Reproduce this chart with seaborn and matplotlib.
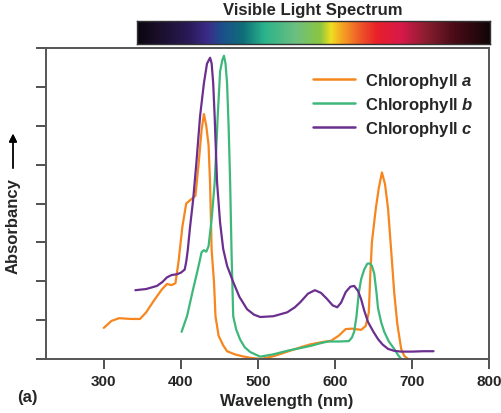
import numpy as np
import pandas as pd
import matplotlib
matplotlib.use('Agg')
import matplotlib.pyplot as plt
from matplotlib.colors import LinearSegmentedColormap
import seaborn as sns

# dados (nm, absorbancia em unidades de tick)
wl_a = [300, 310, 320, 335, 347, 355, 365, 375, 382, 388, 393, 397, 402, 407, 413, 419,
        423, 427, 430, 433, 436, 438, 440, 443, 445, 449, 455, 460, 470, 480, 490, 504,
        520, 540, 555, 569, 582, 595, 605, 614, 622, 634, 640, 644, 646, 648, 653, 657,
        661, 665, 669, 673, 677, 681, 686, 690, 695]
abs_a = [0.8, 0.98, 1.05, 1.03, 1.03, 1.2, 1.5, 1.78, 1.93, 1.9, 1.95, 2.5, 3.4, 4.0, 4.1, 4.2,
         5.0, 5.9, 6.3, 6.0, 5.5, 4.5, 2.8, 2.0, 1.1, 0.6, 0.35, 0.2, 0.12, 0.07, 0.03, 0.0,
         0.07, 0.2, 0.3, 0.38, 0.43, 0.47, 0.6, 0.77, 0.78, 0.75, 0.85, 1.2, 2.2, 3.0, 3.86, 4.4,
         4.8, 4.5, 3.86, 2.8, 1.7, 0.9, 0.26, 0.08, 0.0]

wl_b = [401, 408, 416, 422, 427, 430, 433, 436, 440, 444, 448, 451, 454, 456, 458, 460,
        462, 464, 466, 468, 472, 477, 483, 490, 503, 520, 540, 555, 569, 580, 591, 605,
        618, 622, 625, 628, 631, 634, 638, 642, 645, 648, 651, 654, 656, 660, 664, 670,
        677, 682, 686]
abs_b = [0.7, 1.1, 1.8, 2.3, 2.75, 2.8, 2.76, 2.9, 3.6, 4.55, 6.3, 7.4, 7.7, 7.8, 7.6, 7.1,
         6.0, 4.55, 2.6, 1.1, 0.75, 0.5, 0.3, 0.18, 0.06, 0.12, 0.22, 0.28, 0.34, 0.4, 0.45, 0.45,
         0.46, 0.55, 0.7, 1.1, 1.7, 2.05, 2.3, 2.45, 2.46, 2.4, 2.2, 1.7, 1.3, 0.95, 0.7, 0.45,
         0.26, 0.1, 0.0]

wl_c = [341, 355, 369, 376, 382, 388, 395, 400, 405, 407, 409, 412, 416, 420, 425, 430,
        434, 438, 440, 442, 444, 447, 451, 455, 460, 468, 476, 486, 495, 503, 520, 538,
        548, 555, 565, 574, 582, 590, 597, 603, 608, 614, 620, 625, 630, 634, 638, 643,
        650, 656, 662, 669, 677, 686, 700, 715, 728]
abs_c = [1.77, 1.8, 1.88, 1.98, 2.1, 2.16, 2.18, 2.22, 2.3, 2.5, 2.8, 3.4, 4.1, 5.0, 6.25, 7.1,
         7.6, 7.75, 7.6, 7.1, 6.2, 4.55, 3.5, 2.83, 2.4, 1.98, 1.6, 1.28, 1.14, 1.08, 1.1, 1.2,
         1.33, 1.46, 1.68, 1.77, 1.7, 1.54, 1.38, 1.33, 1.45, 1.72, 1.86, 1.88, 1.75, 1.54, 1.25, 0.95,
         0.7, 0.51, 0.37, 0.26, 0.21, 0.19, 0.19, 0.2, 0.2]

nomes = ['Chlorophyll $a$', 'Chlorophyll $b$', 'Chlorophyll $c$']
cores = ['#F7861E', '#3DB87A', '#6B2F8F']

df = pd.concat([
    pd.DataFrame({'wl': wl_a, 'abs': abs_a, 'tipo': nomes[0]}),
    pd.DataFrame({'wl': wl_b, 'abs': abs_b, 'tipo': nomes[1]}),
    pd.DataFrame({'wl': wl_c, 'abs': abs_c, 'tipo': nomes[2]}),
])

sns.set_style('white')
plt.rcParams['font.family'] = ['Liberation Sans', 'DejaVu Sans']
plt.rcParams['font.weight'] = 'bold'
plt.rcParams['mathtext.fontset'] = 'custom'
plt.rcParams['mathtext.it'] = 'Liberation Sans:italic:bold'
plt.rcParams['mathtext.rm'] = 'Liberation Sans:bold'

fig = plt.figure(figsize=(5.01, 4.14), dpi=100)
W, H = 501, 414
ax = fig.add_axes([46 / W, 1 - 360 / H, 443 / W, 311 / H])

sns.lineplot(data=df, x='wl', y='abs', hue='tipo', palette=cores, sort=False,
             estimator=None, linewidth=1.6, ax=ax)

ax.set_xlim(225, 800)
ax.set_ylim(0, 8)
ax.set_xticks([300, 400, 500, 600, 700, 800])
ax.set_yticks(range(9))
ax.set_yticklabels([])
ax.set_xlabel('')
ax.set_ylabel('')
ax.tick_params(axis='both', direction='out', length=7, width=1.2, color='#333333',
               labelsize=11, pad=4, left=True, bottom=True)
for lab in ax.get_xticklabels():
    lab.set_fontweight('bold')
for s in ax.spines.values():
    s.set_color('#555555')
    s.set_linewidth(1.4)

leg = ax.legend(loc='upper left', bbox_to_anchor=((313 - 46) / 443, (360 - 72) / 311),
                frameon=False, fontsize=12, handlelength=2.5, handletextpad=0.6,
                labelspacing=0.3, borderaxespad=0, borderpad=0)
for ln in leg.get_lines():
    ln.set_linewidth(1.8)

# barra do espectro visivel
pos = [0.0, 0.06, 0.15, 0.2, 0.24, 0.30, 0.36, 0.45, 0.52, 0.55, 0.58, 0.63, 0.68, 0.75, 0.82, 0.90, 1.0]
cols = ['#0a0610', '#1a0f2a', '#2a1a5a', '#3c2c8a', '#1c4f8c', '#0f6e78', '#2ab38a', '#6cbf80',
        '#8cc63f', '#f0df20', '#f5a623', '#ef5a28', '#e8202a', '#d8194a', '#8a1e30', '#4a0c18', '#120608']
cmap = LinearSegmentedColormap.from_list('espectro', list(zip(pos, cols)))
axs = fig.add_axes([137 / W, 1 - 45 / H, 353 / W, 23 / H])
axs.imshow(np.linspace(0, 1, 256)[None, :], aspect='auto', cmap=cmap)
axs.set_xticks([])
axs.set_yticks([])
for s in axs.spines.values():
    s.set_color('#333333')
    s.set_linewidth(1)

fig.text(313 / W, 1 - 11 / H, 'Visible Light Spectrum', ha='center', va='center', fontsize=12, fontweight='bold')
fig.text(287 / W, 1 - 402 / H, 'Wavelength (nm)', ha='center', va='center', fontsize=12, fontweight='bold')
fig.text(17 / W, 1 - 398 / H, '(a)', ha='left', va='center', fontsize=12, fontweight='bold')
fig.text(13 / W, 1 - 226 / H, 'Absorbancy', ha='center', va='center', rotation=90, fontsize=12, fontweight='bold')
fig.add_artist(plt.annotate('', xy=(13 / W, 1 - 132 / H), xytext=(13 / W, 1 - 172 / H),
                            xycoords='figure fraction', textcoords='figure fraction',
                            arrowprops=dict(arrowstyle='-|>', color='black', lw=1, mutation_scale=12)))

plt.savefig('out.png', dpi=100)
